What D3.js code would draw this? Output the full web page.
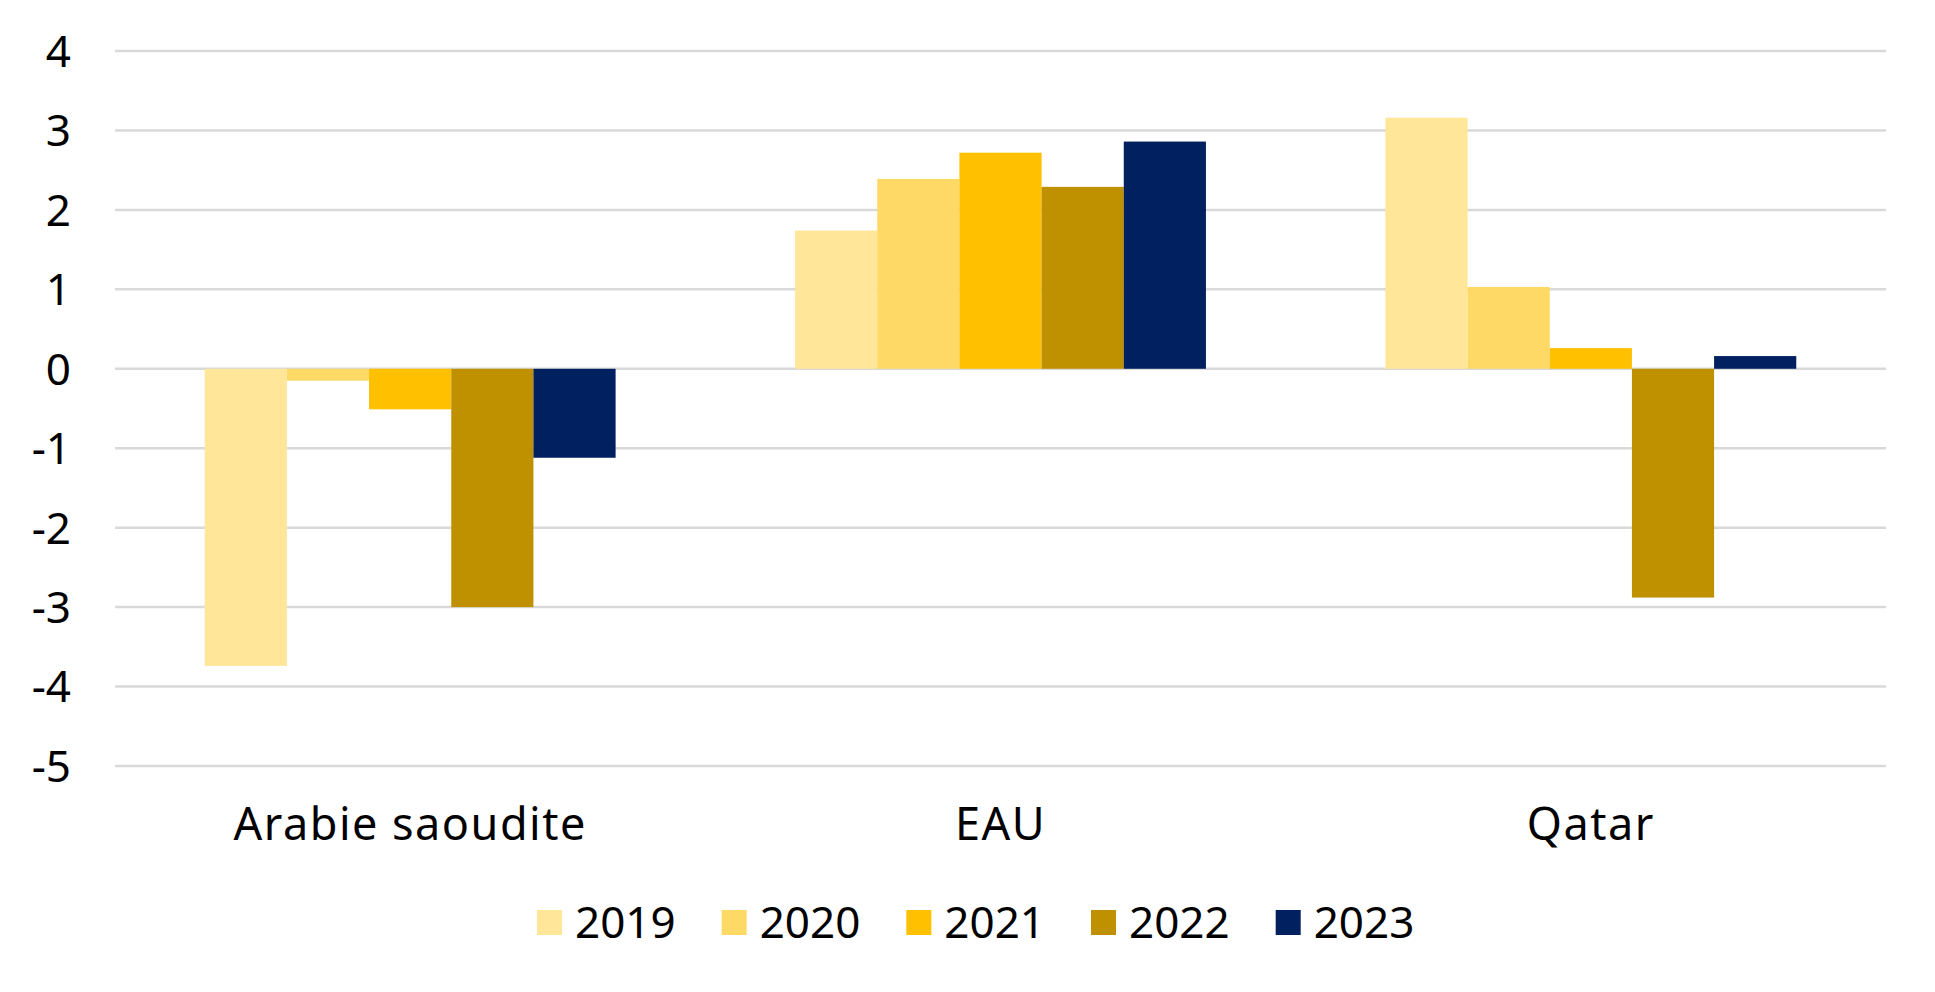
<!DOCTYPE html>
<html>
<head>
<meta charset="utf-8">
<script src="https://cdn.jsdelivr.net/npm/d3@7"></script>
<style>
  body { margin: 0; background: #fff; }
  text { font-family: "Noto Sans", "Open Sans", sans-serif; fill: #000; }
</style>
</head>
<body>
<div id="chart"></div>
<script>
// data
var categories = ["Arabie saoudite", "EAU", "Qatar"];
var years = ["2019", "2020", "2021", "2022", "2023"];
var v2019 = [-3.74, 1.74, 3.16];
var v2020 = [-0.15, 2.39, 1.03];
var v2021 = [-0.51, 2.72, 0.26];
var v2022 = [-3.0, 2.29, -2.88];
var v2023 = [-1.12, 2.86, 0.16];
var yTicks = [4, 3, 2, 1, 0, -1, -2, -3, -4, -5];
var colors = ["#FFE699", "#FFD966", "#FFC000", "#BF9000", "#002060"];

var series = [v2019, v2020, v2021, v2022, v2023];

var width = 1935, height = 992;
var margin = {top: 51, right: 49, bottom: 226, left: 115};

var svg = d3.select("#chart")
  .append("svg")
    .attr("width", width)
    .attr("height", height);

var y = d3.scaleLinear()
    .domain([-5, 4])
    .range([height - margin.bottom, margin.top]);

var x0 = d3.scaleBand()
    .domain(categories)
    .range([margin.left, width - margin.right]);

var gap = 0.152 * x0.bandwidth();
var x1 = d3.scaleBand()
    .domain(years)
    .range([gap, x0.bandwidth() - gap]);

var color = d3.scaleOrdinal().domain(years).range(colors);

// gridlines
svg.append("g")
  .selectAll("line")
  .data(yTicks)
  .enter()
  .append("line")
    .attr("x1", margin.left)
    .attr("x2", width - margin.right)
    .attr("y1", function(d) { return y(d); })
    .attr("y2", function(d) { return y(d); })
    .attr("stroke", "#D9D9D9")
    .attr("stroke-width", 2.5);

// tick labels
svg.append("g")
  .selectAll("text")
  .data(yTicks)
  .enter()
  .append("text")
    .attr("x", 71)
    .attr("y", function(d) { return y(d); })
    .attr("dy", "0.36em")
    .attr("text-anchor", "end")
    .style("font-size", "44px")
    .text(function(d) { return d; });

// bars
years.forEach(function(yr, i) {
  svg.append("g")
    .selectAll("rect")
    .data(categories)
    .enter()
    .append("rect")
      .attr("x", function(c) { return x0(c) + x1(yr); })
      .attr("width", x1.bandwidth())
      .attr("y", function(c, j) { return y(Math.max(0, series[i][j])); })
      .attr("height", function(c, j) { return Math.abs(y(series[i][j]) - y(0)); })
      .attr("fill", color(yr));
});

// category labels (the original font is wider, so spread the letters a bit)
svg.append("g")
  .selectAll("text")
  .data(categories)
  .enter()
  .append("text")
    .attr("x", function(c) { return x0(c) + x0.bandwidth() / 2; })
    .attr("y", 840)
    .attr("text-anchor", "middle")
    .style("font-size", "45px")
    .style("letter-spacing", "1.5px")
    .text(function(c) { return c; });

// legend
var legend = svg.append("g");
var lx = 537;
years.forEach(function(yr) {
  legend.append("rect")
    .attr("x", lx)
    .attr("y", 910)
    .attr("width", 25)
    .attr("height", 25)
    .attr("fill", color(yr));
  var t = legend.append("text")
    .attr("x", lx + 38)
    .attr("y", 922)
    .attr("dy", "0.36em")
    .style("font-size", "44px")
    .text(yr);
  lx += 38 + t.node().getComputedTextLength() + 46;
});
</script>
</body>
</html>
